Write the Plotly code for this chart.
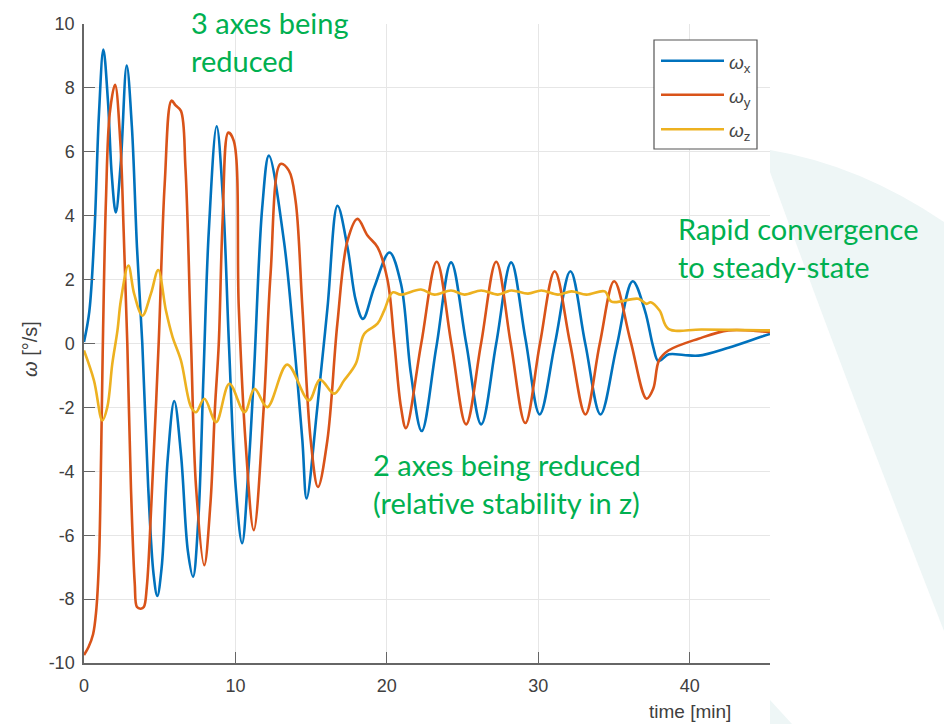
import plotly.graph_objects as go

# ---- data ----
t_x = [0, 0.35, 0.69, 0.99, 1.28, 1.58, 1.83, 2.10, 2.42, 2.82, 3.16, 3.50, 3.85, 4.24, 4.59, 4.84,
       5.13, 5.53, 5.96, 6.41, 6.86, 7.20, 7.55, 7.89, 8.24, 8.76, 9.18, 9.57, 10.02, 10.44, 10.85,
       11.22, 11.77, 12.21, 13.20, 13.86, 14.42, 14.70, 15.41, 16.08, 16.74, 17.40, 17.95, 18.42,
       19.17, 20.17, 20.93, 21.59, 22.30, 23.27, 24.24, 25.24, 26.23, 27.22, 28.21, 29.15, 30.09,
       31.10, 32.12, 33.10, 34.11, 35.17, 36.23, 37.04, 37.59, 37.93, 38.62, 39.60, 40.58, 42.56,
       44.77, 45.30]
w_x = [0.05, 1.0, 3.5, 7.2, 9.2, 7.6, 5.3, 4.1, 5.6, 8.7, 6.8, 3.0, 0.0, -4.5, -7.2, -7.9,
       -7.0, -3.6, -1.8, -3.5, -6.5, -7.3, -5.5, -1.0, 3.5, 6.8, 4.5, 0.0, -4.5, -6.25, -4.0,
       -0.95, 4.26, 5.88, 3.22, 0.09, -3.03, -4.85, -1.99, 1.13, 4.31, 3.01, 1.34, 0.77,
       1.76, 2.85, 1.87, -0.95, -2.74, -0.1, 2.54, 0.0, -2.53, 0.0, 2.54, 0.15, -2.22,
       0.0, 2.26, 0.0, -2.22, -0.1, 1.95, 1.03, -0.11, -0.55, -0.34, -0.36, -0.38, -0.13,
       0.22, 0.30]

t_y = [0, 0.30, 0.60, 0.80, 0.99, 1.13, 1.26, 1.45, 1.70, 2.05, 2.40, 2.62, 2.86, 3.10, 3.35, 3.50,
       3.75, 3.95, 4.15, 4.45, 4.93, 5.33, 5.78, 6.05, 6.40, 6.70, 7.07, 7.40, 7.94, 8.35, 8.65,
       8.90, 9.15, 9.53, 9.89, 10.22, 10.66, 11.21, 11.87, 12.32, 12.98, 13.53, 13.97, 14.42,
       14.97, 15.45, 16.07, 16.73, 17.40, 18.06, 18.72, 19.39, 20.05, 20.48, 20.93, 21.26,
       22.27, 23.29, 24.26, 25.23, 26.22, 27.22, 28.18, 29.14, 30.11, 31.08, 32.10, 33.11,
       34.06, 35.01, 36.08, 37.15, 37.59, 37.97, 38.59, 40.58, 42.56, 44.77, 45.30]
w_y = [-9.75, -9.5, -9.1, -8.4, -6.8, -3.5, 0.4, 4.5, 7.2, 8.1, 6.3, 3.5, 0.0, -4.5, -7.5, -8.25,
       -8.3, -8.25, -7.6, -5.0, 0.0, 5.0, 7.6, 7.45, 7.28, 5.5, 0.0, -4.5, -6.94, -5.0, -2.0,
       0.0, 3.8, 6.6, 6.34, 1.13, -3.03, -5.84, -1.99, 2.18, 5.62, 5.41, 4.47, 1.13,
       -3.03, -4.49, -3.03, 0.62, 3.22, 3.9, 3.38, 3.01, 1.97, 0.09, -1.99, -2.65,
       0.0, 2.56, 0.0, -2.53, 0.0, 2.56, 0.0, -2.49, 0.0, 2.26, 0.0, -2.22,
       0.0, 1.95, 0.1, -1.73, -1.42, -0.53, -0.22, 0.15, 0.41, 0.38, 0.36]

t_z = [0, 0.66, 1.21, 1.54, 1.87, 2.21, 2.43, 2.93, 3.31, 3.86, 4.42, 4.90, 5.41, 5.85, 6.40,
       7.07, 7.40, 7.95, 8.72, 9.60, 10.60, 11.26, 12.10, 13.42, 14.85, 15.58, 16.51, 17.17,
       17.95, 18.50, 19.38, 19.82, 20.38, 20.93, 22.25, 23.13, 24.24, 25.12, 26.23, 27.33,
       28.21, 29.32, 30.20, 31.30, 32.19, 33.18, 34.39, 34.83, 36.60, 37.15, 37.42, 38.01,
       38.59, 40.80, 44.77, 45.30]
w_z = [-0.22, -1.16, -2.41, -1.99, -0.63, 0.41, 1.34, 2.44, 1.56, 0.87, 1.56, 2.30, 1.03, 0.20, -0.53,
       -1.99, -2.15, -1.73, -2.46, -1.26, -2.15, -1.42, -1.99, -0.66, -1.78, -1.13, -1.57, -1.16,
       -0.63, 0.30, 0.62, 1.03, 1.60, 1.53, 1.69, 1.53, 1.66, 1.53, 1.66, 1.53,
       1.66, 1.56, 1.66, 1.53, 1.63, 1.53, 1.63, 1.31, 1.40, 1.24, 1.29, 1.03,
       0.46, 0.44, 0.41, 0.41]

series_names = ["<i>ω</i><sub>x</sub>", "<i>ω</i><sub>y</sub>", "<i>ω</i><sub>z</sub>"]
series_colors = ["#0072BD", "#D95319", "#EDB120"]
x_ticks = [0, 10, 20, 30, 40]
y_ticks = [-10, -8, -6, -4, -2, 0, 2, 4, 6, 8, 10]
y_tick_labels = ["-10", "-8", "-6", "-4", "-2", "0", "2", "4", "6", "8", "10"]

# ---- figure ----
fig = go.Figure()
for tt, ww, nm, col in zip([t_x, t_y, t_z], [w_x, w_y, w_z], series_names, series_colors):
    fig.add_trace(go.Scatter(x=tt, y=ww, mode="lines", name=nm,
                             line=dict(color=col, width=2.6, shape="spline", smoothing=1.0),
                             showlegend=False))

axis_col = "#666666"
tick_font = dict(family="Liberation Sans, Arial, sans-serif", size=18, color="#404040")

fig.update_xaxes(range=[0, 45.3], tickvals=x_ticks, showgrid=True, gridcolor="#E6E6E6", gridwidth=1,
                 showline=True, linecolor=axis_col, linewidth=1.5, ticks="inside", ticklen=11,
                 tickcolor=axis_col, tickwidth=1.3, zeroline=False, tickfont=tick_font,
                 ticklabelstandoff=6)
fig.update_yaxes(range=[-10, 10], tickvals=y_ticks, ticktext=y_tick_labels, showgrid=True,
                 gridcolor="#E6E6E6", gridwidth=1,
                 showline=True, linecolor=axis_col, linewidth=1.5, ticks="inside", ticklen=11,
                 tickcolor=axis_col, tickwidth=1.3, zeroline=False, tickfont=tick_font,
                 ticklabelstandoff=4)

# helper: pixel position in the 944x724 picture -> paper coordinates
def px(xp, yp):
    return (xp - 84) / 686.0, (663 - yp) / 639.0

# decorative light teal background wedge (outside plot area)
pts = [(770, 150), (944, 222), (944, 631), (844, 372), (770, 172)]
c1 = px(860, 165)
c2 = px(885, 480)
c3 = px(800, 255)
p = [px(a, b) for a, b in pts]
path = (f"M {p[0][0]},{p[0][1]} Q {c1[0]},{c1[1]} {p[1][0]},{p[1][1]} L {p[2][0]},{p[2][1]} "
        f"Q {c2[0]},{c2[1]} {p[3][0]},{p[3][1]} Q {c3[0]},{c3[1]} {p[4][0]},{p[4][1]} Z")
shapes = [dict(type="path", xref="paper", yref="paper", path=path,
               fillcolor="#EEF6F6", line=dict(width=0), layer="below")]
b0 = px(770, 700); b1 = px(792, 724); b2 = px(770, 724)
shapes.append(dict(type="path", xref="paper", yref="paper",
                   path=f"M {b0[0]},{b0[1]} L {b1[0]},{b1[1]} L {b2[0]},{b2[1]} Z",
                   fillcolor="#EEF6F6", line=dict(width=0), layer="below"))

# legend box (drawn manually, MATLAB style)
lx0, ly0 = px(654, 149)
lx1, ly1 = px(757, 40)
shapes.append(dict(type="rect", xref="paper", yref="paper", x0=lx0, y0=ly0, x1=lx1, y1=ly1,
                   fillcolor="white", line=dict(color="#555555", width=1.2)))
annotations = []
for i, (nm, col) in enumerate(zip(series_names, series_colors)):
    yy = [60.7, 94.7, 129.3][i]
    sx0, sy = px(661, yy)
    sx1, _ = px(724, yy)
    shapes.append(dict(type="line", xref="paper", yref="paper", x0=sx0, x1=sx1, y0=sy, y1=sy,
                       line=dict(color=col, width=2.6)))
    tx, ty = px(727, yy + 3)
    annotations.append(dict(xref="paper", yref="paper", x=tx, y=ty, xanchor="left", yanchor="middle",
                            text=nm, showarrow=False,
                            font=dict(family="Liberation Sans, Arial", size=19, color="#444444")))

green = "#00B050"
gfont = dict(family="Lato, Open Sans, sans-serif", size=29, color=green)
for txt, (ax, ay) in [("3 axes being<br>reduced", (189, 41)),
                      ("2 axes being reduced<br>(relative stability in z)", (371, 484)),
                      ("Rapid convergence<br>to steady-state", (676, 247))]:
    xp, yp = px(ax, ay)
    annotations.append(dict(xref="paper", yref="paper", x=xp, y=yp, xanchor="left", yanchor="middle",
                            align="left", text=txt, showarrow=False, font=gfont))

# axis titles
ytx, yty = px(30, 349)
annotations.append(dict(xref="paper", yref="paper", x=ytx, y=yty, textangle=-90, showarrow=False,
                        text="<i>ω</i> [°/s]", xanchor="center", yanchor="middle",
                        font=dict(family="Liberation Sans, Arial", size=20, color="#404040")))
_, xty = px(0, 711)
annotations.append(dict(xref="x", yref="paper", x=40, y=xty, showarrow=False, text="time [min]",
                        xanchor="center", yanchor="middle",
                        font=dict(family="Liberation Sans, Arial", size=19, color="#404040")))

fig.update_layout(width=944, height=724, margin=dict(l=84, r=174, t=24, b=61),
                  paper_bgcolor="white", plot_bgcolor="white",
                  shapes=shapes, annotations=annotations, showlegend=False)

fig.write_html("out.html", config={"displayModeBar": False},
               post_script="document.body.style.margin='0';document.body.style.padding='0';"
                           "document.body.style.overflow='hidden';")
